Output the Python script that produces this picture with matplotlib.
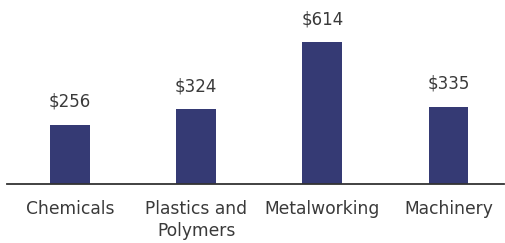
import matplotlib.pyplot as plt

# Data
categories = ['Chemicals', 'Plastics and\nPolymers', 'Metalworking', 'Machinery']
values = [256, 324, 614, 335]
value_labels = ['$256', '$324', '$614', '$335']

bar_color = '#353a74'
text_color = '#3a3a3a'

plt.rcParams['font.family'] = ['DejaVu Sans']

fig = plt.figure(figsize=(5.06, 2.43), dpi=100)
ax = fig.add_axes([0.0138, 0.243, 0.982, 0.757])

x = list(range(len(categories)))
ax.bar(x, values, width=0.315, color=bar_color)

for xi, v, lab in zip(x, values, value_labels):
    ax.annotate(lab, (xi, v), xytext=(0, 16.5), textcoords='offset points',
                ha='center', va='center', fontsize=12, color=text_color)

ax.set_xlim(-0.5, 3.44)
ax.set_ylim(0, 796)

ax.set_xticks(x)
ax.set_xticklabels(categories, fontsize=12.3, color=text_color, linespacing=1.28)
ax.tick_params(axis='x', length=0, pad=11.5)
ax.set_yticks([])

for side in ['top', 'right', 'left']:
    ax.spines[side].set_visible(False)
ax.spines['bottom'].set_color('#333333')
ax.spines['bottom'].set_linewidth(1.3)

plt.savefig('out.png', dpi=100)
